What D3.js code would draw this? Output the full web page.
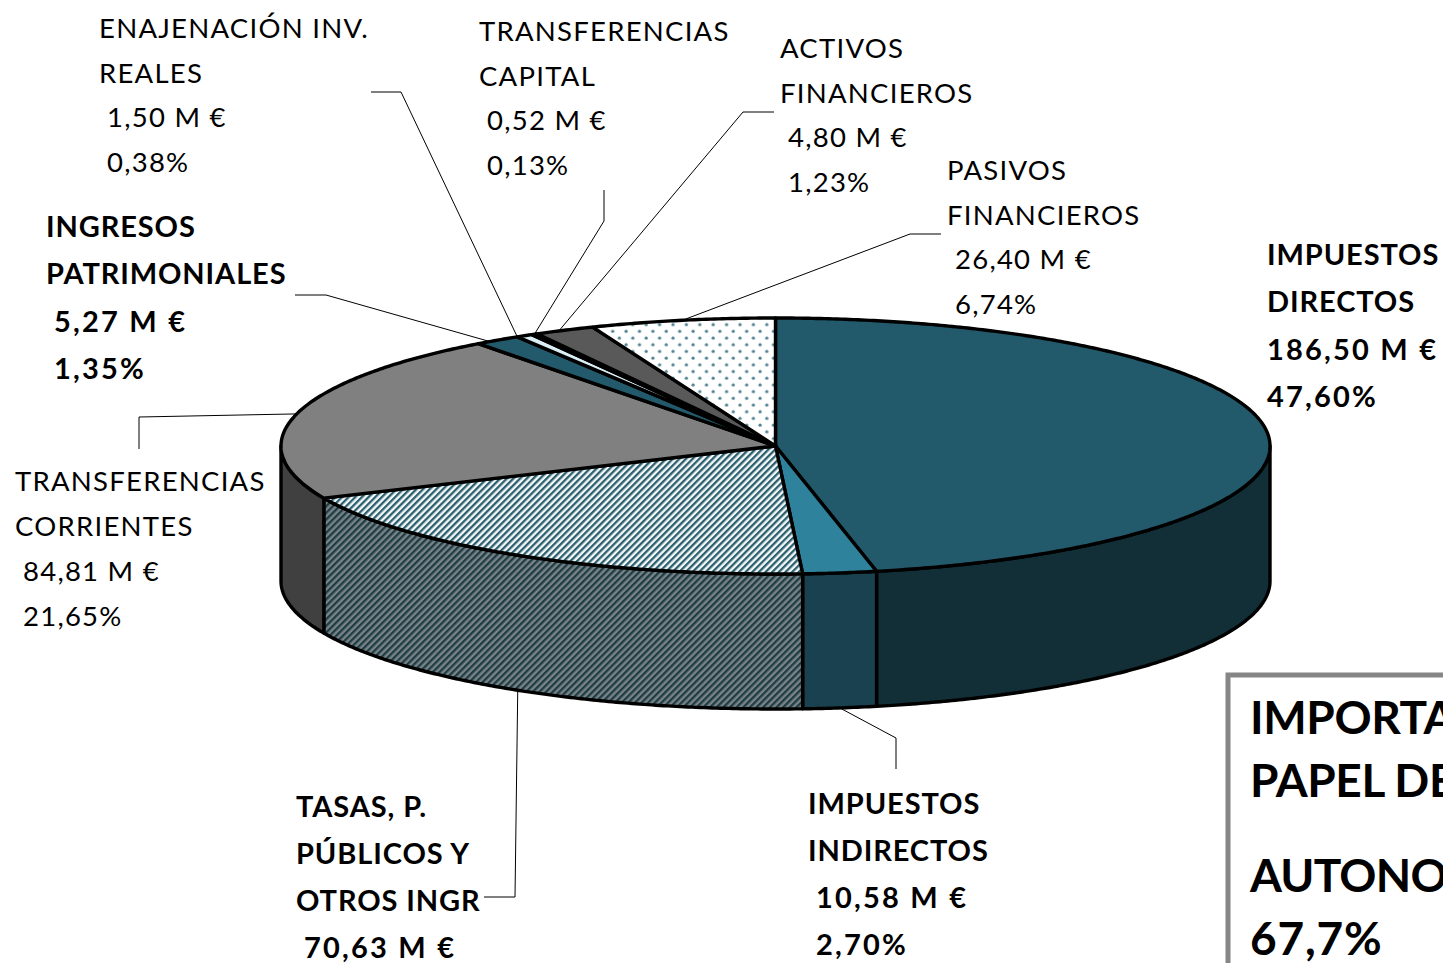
<!DOCTYPE html>
<html><head><meta charset="utf-8">
<script src="https://cdn.jsdelivr.net/npm/d3@7"></script>
<style>html,body{margin:0;padding:0;background:#fff;overflow:hidden}svg{display:block}text{font-family:Lato,"Open Sans",sans-serif;fill:#000}</style>
</head><body><svg id="c" width="1443" height="963"></svg>
<script>
const categories = [
  ["IMPUESTOS","DIRECTOS"],["IMPUESTOS","INDIRECTOS"],["TASAS, P.","PÚBLICOS Y","OTROS INGR"],
  ["TRANSFERENCIAS","CORRIENTES"],["INGRESOS","PATRIMONIALES"],["ENAJENACIÓN INV.","REALES"],
  ["TRANSFERENCIAS","CAPITAL"],["ACTIVOS","FINANCIEROS"],["PASIVOS","FINANCIEROS"]];
const values = [186.50,10.58,70.63,84.81,5.27,1.50,0.52,4.80,26.40];
const valueLabels = ["186,50 M €","10,58 M €","70,63 M €","84,81 M €","5,27 M €","1,50 M €","0,52 M €","4,80 M €","26,40 M €"];
const pctLabels = ["47,60%","2,70%","","21,65%","1,35%","0,38%","0,13%","1,23%","6,74%"];
const boxLines = ["IMPORTA","PAPEL DE","AUTONO","67,7%"];

const topFill = ["#235a6b","#2f829c","url(#stripeTop)","#808080","#235a6b","#daeef3","#595959","#595959","url(#dots)"];
const sideFill = ["#122e36","#1a414f","url(#stripeSide)","#404040","#122e36","#6d7779","#2d2d2d","#2d2d2d","#777"];
const isBold = [1,1,1,0,1,0,0,0,0];

// layout of labels: x, first baseline, line step, indent of the value lines
const labelX  = [1267,808,296,15,46,99,479,780,947];
const labelY  = [265,814,817,491,237,38,41,58,180];
const labelDy = [47.3,47,47,45,47.3,44.7,44.7,44.5,44.7];
const labelIn = [0,8,8,8,8,8,8,8,8];
// leader elbows (label end, elbow); last point sits on the slice rim
const leaders = [null,[[896,769],[896,738]],[[484,897],[515,897]],[[139,449],[139,417]],[[295,295],[326,295]],
  [[371,92],[401,92]],[[604,190],[604,221]],[[774,112],[743,112]],[[941,234],[910,234]]];
const leaderAt = [0,0.5,0.5,0.5,0.3,0,0.5,0.4,0.5];
const leaderFront = [0,1,1,0,0,0,0,0,0];

const svg = d3.select("#c");
const defs = svg.append("defs");
function stripes(id,bg,fg){
  const p = defs.append("pattern").attr("id",id).attr("patternUnits","userSpaceOnUse")
    .attr("width",4.7).attr("height",4.7).attr("patternTransform","rotate(45)");
  p.append("rect").attr("width",4.7).attr("height",4.7).attr("fill",bg);
  p.append("rect").attr("width",2.3).attr("height",4.7).attr("fill",fg);
}
stripes("stripeTop","#f4f8f9","#2b5f6e");
stripes("stripeSide","#7a8385","#1d3c45");
const dp = defs.append("pattern").attr("id","dots").attr("patternUnits","userSpaceOnUse").attr("width",13.4).attr("height",13.4);
dp.append("rect").attr("width",13.4).attr("height",13.4).attr("fill","#fff");
[[3,3],[9.7,9.7]].forEach(d=>dp.append("circle").attr("cx",d[0]).attr("cy",d[1]).attr("r",1.6).attr("fill","#4f8190"));

const pie = d3.pie().sort(null).value(d=>d)(values);
// the 3-D view distorts angles: data angle (deg) -> drawn angle (deg)
const view = d3.scaleLinear()
  .domain([0,171.7,181.4,246.4,324.6,329.4,331.3,335.7,360])
  .range([0,168.2,176.8,245.9,323.1,328.5,331.2,338.3,360]);
const xS = d3.scaleLinear().domain([-1,1]).range([281,1270]);
const yS = d3.scaleLinear().domain([-1,1]).range([318,574]);
const depth = 135;
const rad = a => view(a*180/Math.PI)*Math.PI/180;
const rim = (t,dy=0) => [xS(Math.sin(t)), yS(-Math.cos(t))+dy];
const arcPts = (a,b,dy=0) => { const n=Math.max(2,Math.ceil((b-a)*120)); return d3.range(n+1).map(i=>rim(a+(b-a)*i/n,dy)); };
const line = d3.line();

// side walls
const g = svg.append("g").attr("stroke","#000").attr("stroke-width",3.4).attr("stroke-linejoin","round");
pie.forEach((s,i)=>{
  const a=Math.max(rad(s.startAngle),Math.PI/2), b=Math.min(rad(s.endAngle),Math.PI*1.5);
  if(b<=a) return;
  g.append("path").attr("fill",sideFill[i])
   .attr("d",line([...arcPts(a,b),...arcPts(a,b,depth).reverse()])+"Z");
});
// top faces
pie.forEach((s,i)=>{
  const a=rad(s.startAngle), b=rad(s.endAngle);
  g.append("path").attr("fill",topFill[i])
   .attr("d",line([[xS(0),yS(0)],...arcPts(a,b)])+"Z");
});

// leaders
pie.forEach((s,i)=>{
  if(!leaders[i]) return;
  const a=rad(s.startAngle), b=rad(s.endAngle);
  const t=a+(b-a)*leaderAt[i];
  const end=rim(t,leaderFront[i]?depth:0);
  svg.append("path").attr("fill","none").attr("stroke","#000").attr("stroke-width",1)
    .attr("d",line([...leaders[i],end]));
});

// labels
categories.forEach((lines,i)=>{
  const b=isBold[i];
  const t=svg.append("g").attr("font-size",b?29:27.5).attr("font-weight",b?700:400);
  let y=labelY[i];
  lines.forEach(l=>{ t.append("text").attr("x",labelX[i]).attr("y",y).attr("letter-spacing",b?0.9:1.25).text(l); y+=labelDy[i]; });
  t.append("text").attr("x",labelX[i]+labelIn[i]).attr("y",y).attr("letter-spacing",b?2.2:1.25).text(valueLabels[i]); y+=labelDy[i];
  if(pctLabels[i]) t.append("text").attr("x",labelX[i]+labelIn[i]).attr("y",y).attr("letter-spacing",b?2.2:1.25).text(pctLabels[i]);
});

// box
svg.append("rect").attr("x",1228).attr("y",675).attr("width",300).attr("height",400)
  .attr("fill","#fff").attr("stroke","#868686").attr("stroke-width",5);
const boxY=[734,797,892,955];
const boxLs=[-0.4,-0.4,-0.8,0.8];
boxLines.forEach((l,i)=>svg.append("text").attr("x",1250).attr("y",boxY[i]).attr("font-size",46).attr("font-weight",700).attr("letter-spacing",boxLs[i]).text(l));
</script></body></html>
